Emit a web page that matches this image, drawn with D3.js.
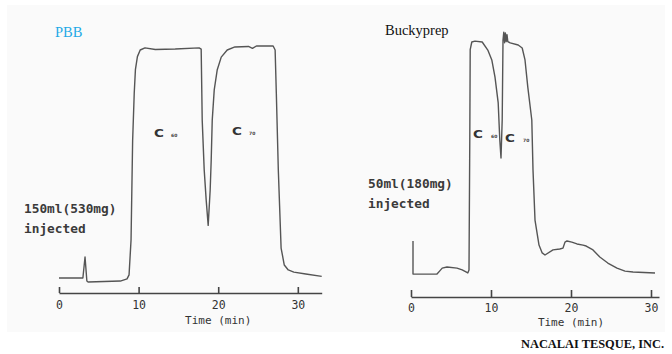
<!DOCTYPE html>
<html><head><meta charset="utf-8">
<script src="https://cdn.jsdelivr.net/npm/d3@7"></script>
<style>html,body{margin:0;padding:0;background:#fff;}svg{display:block;}</style>
</head><body>
<svg id="c" width="672" height="354"></svg>
<script>
// ---- data ----
const pbbTime   = [0,3.0,3.27,3.5,3.65,7.7,8.55,8.8,9.05,9.25,9.45,9.6,9.85,10.2,10.8,12.1,14.6,17.6,17.86,17.99,18.24,18.49,18.74,18.99,19.12,19.25,19.5,19.87,20.38,21.13,22.1,23.8,24.3,24.8,26.9,27.15,27.3,27.55,27.9,28.3,28.8,29.5,31,33];
const pbbSignal = [1.7,1.7,10.6,0.4,0,0.4,1.3,3,17.8,60,80,90,95.5,98.3,99.2,98.5,98.7,99.2,98.7,68.6,47.5,34.7,24,39,51.7,68.6,81.4,89.8,95.3,98.3,99.6,99.8,99,100,100,98.3,80,47.5,14.4,7.2,5.1,4.2,3.4,2.4];

const buckyTime   = [0.25,0.25,3.25,3.6,3.9,4.5,5.75,6.4,7.1,7.25,7.35,7.4,7.6,8.0,8.9,9.6,10.1,10.5,10.9,11.1,11.25,11.4,11.5,11.6,11.7,11.8,11.9,12.0,12.1,12.4,13.4,13.9,14.25,14.6,15.1,15.25,15.5,16.0,16.4,16.75,17.75,18.6,19.0,19.25,19.5,20.1,20.75,21.5,21.9,22.75,23.6,24.6,25.75,26.75,27.75,30.5];
const buckySignal = [14.8,0.4,0.4,1.8,3.0,3.5,3.0,2.2,0.9,2.2,60,98,101.3,101.7,101.3,97.8,93.5,86,74.8,58.7,50.9,67.4,102,105.6,101,105.2,101.5,104.5,101.5,100.9,100,98.7,93.5,81.7,67.4,45.7,23.9,13,9.6,8.7,10.9,11.3,11.7,14.3,14.8,14.3,13.5,13,12.6,10.9,7.8,5.2,3.0,1.7,1.3,0.9];

const tickValues = [0,10,20,30];
const tickLabels = ["0","10","20","30"];
const axisTitle = "Time (min)";
const panelTitles = ["PBB","Buckyprep"];
const injectLabels = [["150ml(530mg)","injected"],["50ml(180mg)","injected"]];
const peakNames = [["C","60"],["C","70"]];
const credit = "NACALAI TESQUE, INC.";

// ---- drawing ----
const svg = d3.select("#c");
svg.append("rect").attr("x",7).attr("y",5).attr("width",658).attr("height",327).attr("fill","#fafafa");

const mono = "'DejaVu Sans Mono', monospace";
const serif = "'Liberation Serif','Times New Roman',serif";

function panel(cfg){
  const x = d3.scaleLinear().domain(cfg.xDomain).range(cfg.xRange);
  const y = d3.scaleLinear().domain([0,100]).range(cfg.yRange);
  const pts = cfg.time.map((t,i)=>[t,cfg.signal[i]]);
  svg.append("path").datum(pts)
    .attr("d", d3.line().x(d=>x(d[0])).y(d=>y(d[1])))
    .attr("fill","none").attr("stroke","#555").attr("stroke-width",1.4).attr("stroke-linejoin","round");

  const ax = svg.append("g").attr("transform",`translate(0,${cfg.axisY})`)
    .call(d3.axisBottom(x).tickValues(tickValues).tickFormat((d,i)=>tickLabels[i])
      .tickSizeInner(-cfg.tickLen).tickSizeOuter(0).tickPadding(cfg.tickPad));
  ax.select(".domain").attr("stroke","#444").attr("stroke-width",1.6);
  ax.selectAll(".tick line").attr("stroke","#444").attr("stroke-width",1.6);
  ax.selectAll(".tick text").attr("font-family",mono).attr("font-size",11.5).attr("fill","#333");
  svg.append("text").attr("x",x(20)).attr("y",cfg.titleY).attr("text-anchor","middle")
    .attr("font-family",mono).attr("font-size",11).attr("fill","#333").text(axisTitle);

  svg.append("text").attr("x",cfg.pTitle[0]).attr("y",cfg.pTitle[1])
    .attr("font-family",serif).attr("font-size",14.5).attr("fill",cfg.pColor).text(cfg.pText);

  cfg.inject.forEach((s,i)=>{
    svg.append("text").attr("x",cfg.injXY[0]).attr("y",cfg.injXY[1]+i*19.5)
      .attr("font-family",mono).attr("font-size",12.8).attr("font-weight","bold").attr("fill","#3a3a3a").text(s);
  });

  cfg.cPos.forEach((p,i)=>{
    svg.append("text").attr("transform",`translate(${p[0]},${p[1]}) scale(1.35,1)`)
      .attr("font-family","'DejaVu Sans',sans-serif").attr("font-weight","bold").attr("fill","#333")
      .attr("font-size",10).text(peakNames[i][0]);
    svg.append("text").attr("x",p[0]+cfg.subDx).attr("y",p[1])
      .attr("font-family","'DejaVu Sans',sans-serif").attr("font-weight","bold").attr("fill","#444")
      .attr("font-size",4.5).text(peakNames[i][1]);
  });
}

panel({
  time: pbbTime, signal: pbbSignal,
  xDomain:[0,33], xRange:[59,321.7], yRange:[282,46],
  axisY:293, tickLen:6, tickPad:8, titleY:324,
  pTitle:[55,37], pColor:"#1fa9e6", pText:panelTitles[0],
  inject: injectLabels[0], injXY:[24,213],
  cPos:[[154,137],[232,135]], subDx:17
});
panel({
  time: buckyTime, signal: buckySignal,
  xDomain:[0,31], xRange:[411,659], yRange:[275,45],
  axisY:297, tickLen:7, tickPad:7, titleY:326,
  pTitle:[385,35], pColor:"#111", pText:panelTitles[1],
  inject: injectLabels[1], injXY:[368,188],
  cPos:[[473,138],[505,142]], subDx:18
});

svg.append("text").attr("x",521).attr("y",348)
  .attr("font-family",serif).attr("font-size",12.4).attr("font-weight","bold").attr("fill","#111").text(credit);
</script>
</body></html>
